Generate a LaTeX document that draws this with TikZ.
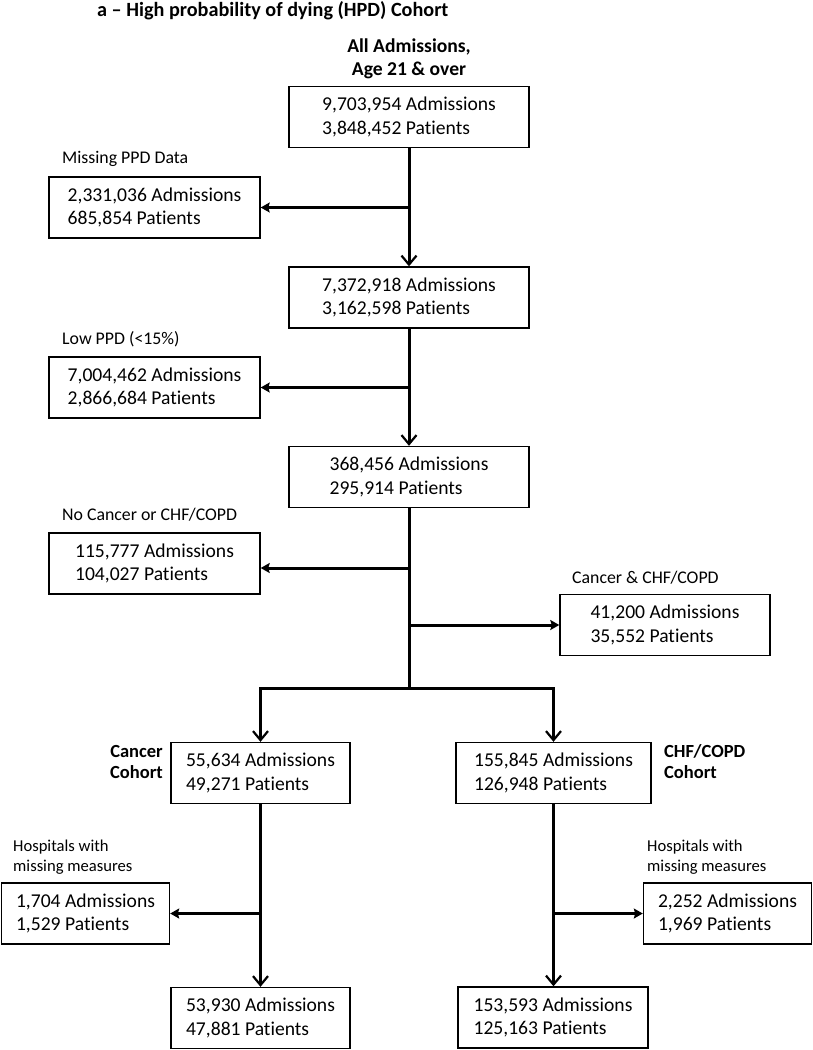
\documentclass[tikz,border=0pt]{standalone}
\usepackage{fontspec}
\setmainfont{Carlito}[Ligatures=NoCommon]
\usetikzlibrary{arrows.meta,positioning,calc}
\tikzset{
    box/.style = {draw, rectangle, line width=1.4pt, inner sep=0pt,
        minimum height=61pt, align=left,
        font=\fontsize{19.6}{23.5}\selectfont},
    lbl/.style = {inner sep=0pt, align=left, font=\fontsize{17.8}{21}\selectfont},
    hosp/.style = {inner sep=0pt, align=left, font=\fontsize{16.6}{20}\selectfont},
    head/.style = {inner sep=0pt, font=\bfseries\fontsize{19.6}{23}\selectfont},
    down/.style = {draw, line width=3pt, -{Straight Barb[length=9pt,width=15pt,line width=2.2pt]}},
    side/.style = {draw, line width=3pt, -{Stealth[length=9pt,width=10pt,inset=1.5pt]}},
    trunk/.style = {draw, line width=3pt}
}
\begin{document}
\begin{tikzpicture}[x=1pt, y=-1pt]
        \useasboundingbox (0,0) rectangle (813,1050);

        % headings
        \node [head, anchor=west, font=\bfseries\fontsize{20.2}{23}\selectfont] (title) at (97,11) {a -- High probability of dying (HPD) Cohort};
        \node [head, align=center] (top) at (409,58.5) {All Admissions,\\Age 21 \& over};

        % main column
        \node [box, minimum width=240pt] (all) at (409,117) {9,703,954 Admissions\\3,848,452 Patients};
        \node [box, minimum width=240pt] (ppd) at (409,297.5) {7,372,918 Admissions\\3,162,598 Patients};
        \node [box, minimum width=240pt] (hpd) at (409,477) {368,456 Admissions\\295,914 Patients};

        % exclusions
        \node [box, minimum width=211pt] (miss) at (154.5,207.5) {2,331,036 Admissions\\685,854 Patients};
        \node [lbl, anchor=west] (misslbl) at (62,159) {Missing PPD Data};
        \node [box, minimum width=211pt] (low) at (154.5,387.5) {7,004,462 Admissions\\2,866,684 Patients};
        \node [lbl, anchor=west] (lowlbl) at (62,339) {Low PPD (<15\%)};
        \node [box, minimum width=211pt] (nocan) at (154.5,563.5) {115,777 Admissions\\104,027 Patients};
        \node [lbl, anchor=west] (nocanlbl) at (62,515) {No Cancer or CHF/COPD};
        \node [box, minimum width=210pt] (both) at (665,625) {41,200 Admissions\\35,552 Patients};
        \node [lbl, anchor=west] (bothlbl) at (572,578) {Cancer \& CHF/COPD};

        % cohorts
        \node [box, minimum width=179pt] (cancer) at (260.5,773) {55,634 Admissions\\49,271 Patients};
        \node [head, anchor=east, align=right, font=\bfseries\fontsize{18.5}{21}\selectfont] (cancerlbl) at (163,761.5) {Cancer\\Cohort};
        \node [box, minimum width=195pt] (chf) at (553.5,773) {155,845 Admissions\\126,948 Patients};
        \node [head, anchor=west, align=left, font=\bfseries\fontsize{18.5}{21}\selectfont] (chflbl) at (664,761.5) {CHF/COPD\\Cohort};

        \node [box, minimum width=168pt] (hospl) at (85.5,913.5) {1,704 Admissions\\1,529 Patients};
        \node [hosp, anchor=west] (hospllbl) at (13,857) {Hospitals with\\missing measures};
        \node [box, minimum width=168pt] (hospr) at (727.5,913.5) {2,252 Admissions\\1,969 Patients};
        \node [hosp, anchor=west] (hosprlbl) at (647,857) {Hospitals with\\missing measures};

        \node [box, minimum width=179pt] (canfin) at (260.5,1018) {53,930 Admissions\\47,881 Patients};
        \node [box, minimum width=190pt] (chffin) at (553,1017.5) {153,593 Admissions\\125,163 Patients};

        % connectors
        \draw [down] (all) -- (ppd);
        \draw [side] (all.south |- miss.east) -- (miss);
        \draw [down] (ppd) -- (hpd);
        \draw [side] (ppd.south |- low.east) -- (low);
        \coordinate (split) at (409,688);
        \draw [trunk] (hpd) -- (split);
        \draw [side] ($(hpd.south |- nocan.east)+(0,4.5)$) -- ($(nocan.east)+(0,4.5)$);
        \draw [side] (hpd.south |- both.west) -- (both);
        \draw [down] (split) -| (cancer);
        \draw [down] (split) -| (chf);
        \draw [down] (cancer) -- (canfin);
        \draw [side] (cancer.south |- hospl.east) -- (hospl);
        \draw [down] (chf.south) -- (chffin.north -| chf.south);
        \draw [side] (chf.south |- hospr.west) -- (hospr);
\end{tikzpicture}
\end{document}
